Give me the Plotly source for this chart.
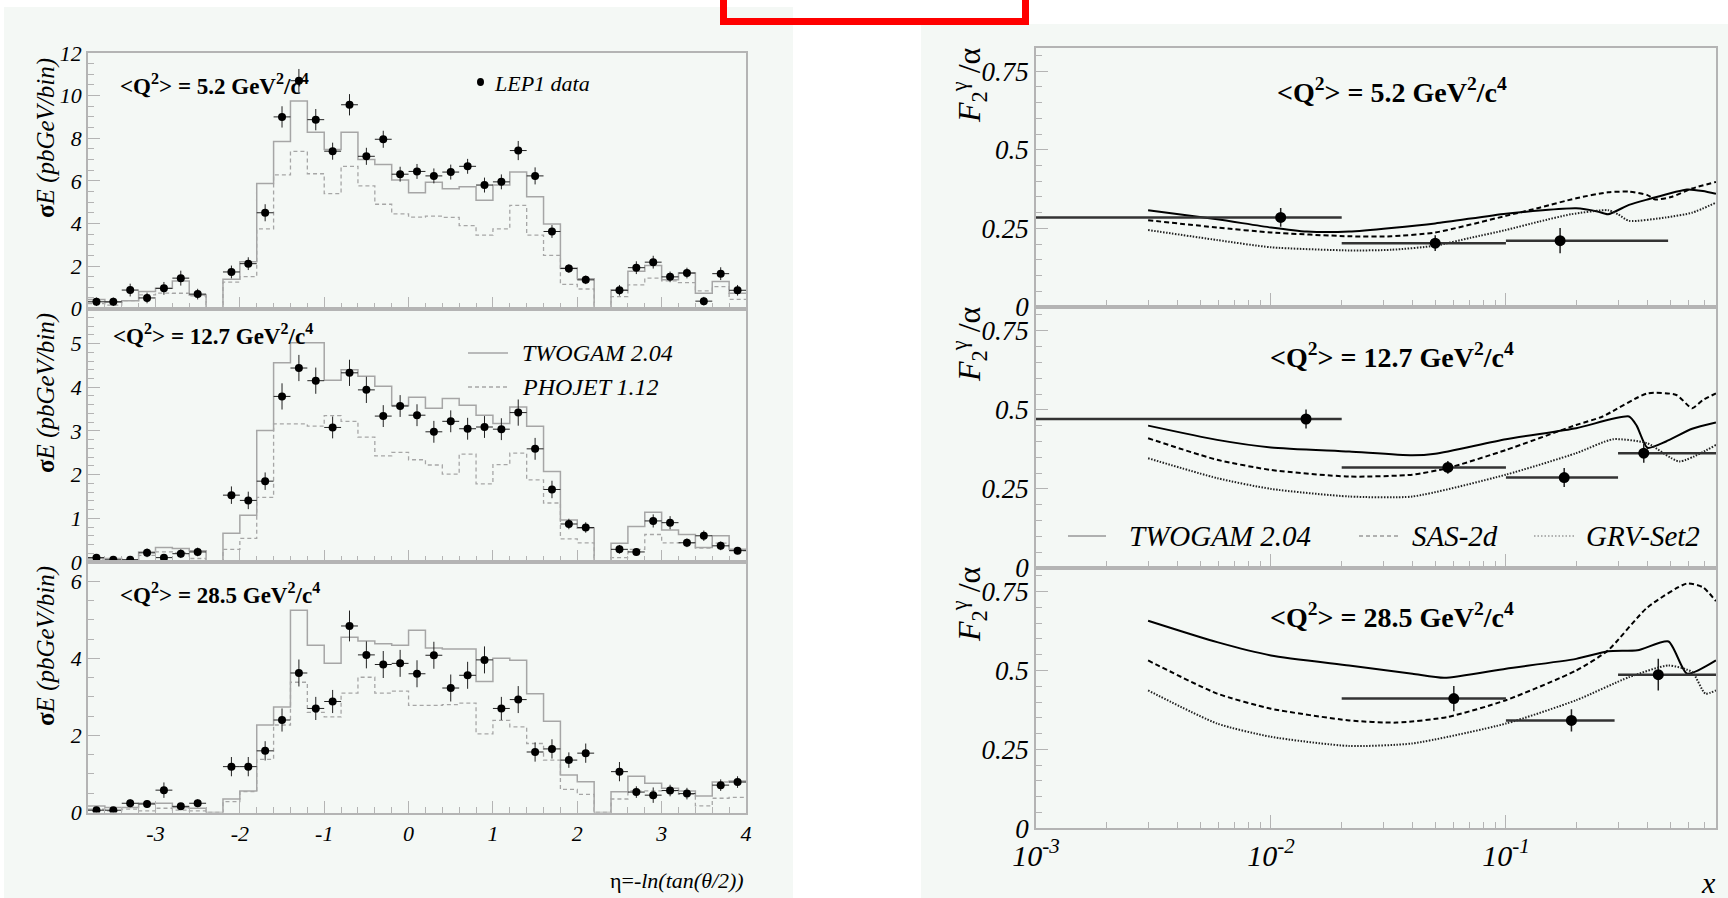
import plotly.graph_objects as go

# ---------------- data: left (eta distributions) ----------------
eta_edges = [round(-3.8 + 0.2 * i, 1) for i in range(40)]
eta_centers = [round(e + 0.1, 1) for e in eta_edges[:-1]]
eta_ticks = [-3, -2, -1, 0, 1, 2, 3, 4]
eta_ticktext = ["-3", "-2", "-1", "0", "1", "2", "3", "4"]

data1 = [0.32, 0.32, 0.87, 0.50, 0.95, 1.43, 0.68, None, 1.72, 2.11, 4.50, 9.00, 10.7, 8.87, 7.39, 9.57,
         7.15, 7.95, 6.31, 6.44, 6.23, 6.41, 6.68, 5.80, 5.95, 7.42, 6.23, 3.62, 1.88, 1.35, None, 0.86,
         1.92, 2.18, 1.49, 1.67, 0.35, 1.64, 0.86]
err1 = [0.2, 0.2, 0.3, 0.25, 0.3, 0.35, 0.25, 0, 0.3, 0.3, 0.4, 0.5, 0.55, 0.5, 0.4, 0.5, 0.4, 0.4, 0.35,
        0.35, 0.35, 0.35, 0.35, 0.35, 0.35, 0.45, 0.4, 0.3, 0.2, 0.2, 0, 0.25, 0.3, 0.3, 0.25, 0.25, 0.2,
        0.3, 0.25]
tw1 = [0.43, 0.30, 0.37, 0.80, 0.95, 1.30, 0.64, 0, 1.38, 2.20, 5.87, 7.84, 9.75, 8.28, 7.47, 8.28, 7.00,
       6.77, 6.04, 5.44, 5.93, 5.63, 5.72, 5.09, 5.80, 6.41, 5.25, 3.97, 1.91, 1.40, 0, 0.87, 1.75, 2.02,
       1.35, 1.67, 0.72, 1.27, 0.72]
ph1 = [0.24, 0.16, 0.37, 0.64, 0.73, 0.72, 0.60, 0, 1.24, 1.50, 3.74, 6.28, 7.38, 6.33, 5.40, 6.68, 5.76,
       4.90, 4.45, 4.29, 4.34, 4.28, 3.90, 3.45, 3.74, 4.85, 3.45, 2.50, 1.14, 0.92, 0, 0.56, 1.11, 1.43,
       1.30, 1.22, 0.83, 1.03, 0.43]

data2 = [0.10, 0.05, 0.05, 0.21, 0.10, 0.19, 0.23, None, 1.53, 1.41, 1.85, 3.79, 4.44, 4.15, 3.08, 4.33,
         3.94, 3.34, 3.57, 3.36, 2.98, 3.22, 3.05, 3.09, 3.04, 3.42, 2.59, 1.66, 0.87, 0.79, None, 0.29,
         0.23, 0.94, 0.90, 0.44, 0.60, 0.37, 0.26]
err2 = [0.08, 0.06, 0.06, 0.1, 0.08, 0.1, 0.1, 0, 0.2, 0.2, 0.2, 0.3, 0.3, 0.3, 0.25, 0.3, 0.3, 0.25, 0.25,
        0.25, 0.25, 0.25, 0.25, 0.25, 0.25, 0.3, 0.25, 0.2, 0.12, 0.12, 0, 0.1, 0.08, 0.15, 0.15, 0.1, 0.12,
        0.1, 0.08]
tw2 = [0.08, 0.08, 0.05, 0.23, 0.33, 0.31, 0.26, 0, 0.66, 1.07, 3.01, 4.56, 5.02, 5.02, 4.16, 4.40, 4.25,
       4.02, 3.58, 3.77, 3.52, 3.74, 3.59, 3.36, 3.17, 3.55, 3.11, 2.07, 0.96, 0.77, 0, 0.43, 0.81, 1.14,
       0.73, 0.63, 0.33, 0.60, 0.29]
ph2 = [0.04, 0.02, 0.04, 0.15, 0.23, 0.21, 0.08, 0, 0.29, 0.54, 1.48, 3.16, 3.16, 3.11, 3.35, 3.22, 2.86,
       2.43, 2.51, 2.34, 2.22, 2.01, 2.47, 1.79, 2.23, 2.49, 1.88, 1.35, 0.53, 0.44, 0, 0.10, 0.29, 0.63,
       0.44, 0.44, 0.32, 0.43, 0.26]

data3 = [0.06, 0.06, 0.24, 0.22, 0.58, 0.16, 0.24, None, 1.19, 1.19, 1.60, 2.40, 3.62, 2.70, 2.88, 4.84,
         4.09, 3.84, 3.87, 3.60, 4.08, 3.23, 3.56, 3.96, 2.70, 2.93, 1.57, 1.65, 1.36, 1.54, None, 1.06,
         0.53, 0.45, 0.57, 0.49, None, 0.71, 0.79]
err3 = [0.06, 0.06, 0.1, 0.1, 0.2, 0.08, 0.1, 0, 0.25, 0.25, 0.25, 0.3, 0.35, 0.3, 0.3, 0.4, 0.35, 0.35,
        0.35, 0.35, 0.35, 0.35, 0.35, 0.35, 0.3, 0.35, 0.25, 0.25, 0.2, 0.25, 0, 0.25, 0.15, 0.2, 0.15,
        0.15, 0, 0.15, 0.15]
tw3 = [0.17, 0.13, 0.13, 0.24, 0.24, 0.13, 0.11, 0, 0.35, 0.56, 2.27, 2.74, 5.25, 4.34, 3.87, 4.55, 4.45,
       4.38, 4.34, 4.73, 4.27, 4.24, 4.24, 3.40, 4.00, 3.95, 3.08, 2.37, 0.97, 0.80, 0, 0.54, 0.94, 0.76,
       0.63, 0.56, 0.43, 0.79, 0.82]
ph3 = [0.09, 0.04, 0.09, 0.04, 0.11, 0.06, 0.04, 0, 0.28, 0.54, 1.38, 2.27, 3.38, 2.60, 2.48, 3.10, 3.51,
       3.10, 3.15, 2.78, 2.78, 2.80, 2.84, 2.04, 2.39, 2.22, 1.79, 1.36, 0.60, 0.47, 0, 0.35, 0.56, 0.56,
       0.56, 0.47, 0.17, 0.37, 0.39]

left_q2 = ["5.2", "12.7", "28.5"]
left_ymax = [12, 5.8, 6.5]
left_major = [2, 1, 2]
left_minor = [0.5, 0.2, 0.5]

# ---------------- data: right (F2/alpha vs x) ----------------
f2_x = [[0.011, 0.05, 0.17], [0.0141, 0.0566, 0.177, 0.386], [0.06, 0.19, 0.445]]
f2_y = [[0.285, 0.203, 0.211], [0.471, 0.318, 0.286, 0.363], [0.411, 0.342, 0.487]]
f2_xlo = [[0.001, 0.02, 0.1], [0.001, 0.02, 0.1, 0.3], [0.02, 0.1, 0.3]]
f2_xhi = [[0.02, 0.1, 0.49], [0.02, 0.1, 0.3, 0.8], [0.1, 0.29, 0.8]]
f2_yerr = [[0.03, 0.025, 0.04], [0.03, 0.02, 0.03, 0.03], [0.04, 0.035, 0.05]]

twogam_x = [[0.003, 0.0059, 0.01, 0.0142, 0.0215, 0.05, 0.1, 0.199, 0.245, 0.272, 0.334, 0.40, 0.59, 0.689, 0.783],
            [0.003, 0.0059, 0.01, 0.0215, 0.040, 0.05, 0.1, 0.199, 0.334, 0.36, 0.40, 0.48, 0.62, 0.783],
            [0.003, 0.0059, 0.01, 0.0215, 0.040, 0.0546, 0.1, 0.199, 0.272, 0.363, 0.492, 0.59, 0.783]]
twogam_y = [[0.308, 0.279, 0.253, 0.240, 0.240, 0.266, 0.297, 0.314, 0.304, 0.295, 0.325, 0.342, 0.374, 0.369, 0.360],
            [0.450, 0.405, 0.381, 0.368, 0.356, 0.361, 0.407, 0.442, 0.479, 0.450, 0.380, 0.400, 0.440, 0.460],
            [0.658, 0.590, 0.548, 0.516, 0.490, 0.477, 0.506, 0.537, 0.561, 0.564, 0.592, 0.490, 0.532]]
sas_x = [[0.003, 0.0059, 0.01, 0.0215, 0.0325, 0.05, 0.1, 0.139, 0.199, 0.272, 0.334, 0.40, 0.432, 0.505, 0.62, 0.783],
         [0.003, 0.0059, 0.01, 0.0215, 0.040, 0.0566, 0.1, 0.199, 0.258, 0.40, 0.531, 0.62, 0.689, 0.783],
         [0.003, 0.0059, 0.01, 0.0215, 0.0343, 0.0566, 0.1, 0.199, 0.272, 0.40, 0.59, 0.689, 0.783]]
sas_y = [[0.276, 0.253, 0.237, 0.225, 0.225, 0.237, 0.290, 0.316, 0.346, 0.365, 0.367, 0.356, 0.342, 0.350, 0.377, 0.398],
         [0.410, 0.342, 0.310, 0.289, 0.295, 0.316, 0.373, 0.452, 0.479, 0.552, 0.547, 0.505, 0.531, 0.552],
         [0.532, 0.427, 0.379, 0.342, 0.335, 0.353, 0.406, 0.500, 0.564, 0.700, 0.776, 0.764, 0.720]]
grv_x = [[0.003, 0.0059, 0.01, 0.0215, 0.0325, 0.05, 0.0706, 0.1, 0.139, 0.189, 0.272, 0.30, 0.334, 0.48, 0.62, 0.783],
         [0.003, 0.0059, 0.01, 0.0215, 0.040, 0.1, 0.199, 0.286, 0.40, 0.546, 0.783],
         [0.003, 0.0059, 0.01, 0.0215, 0.040, 0.1, 0.199, 0.334, 0.492, 0.62, 0.706, 0.783]]
grv_y = [[0.245, 0.213, 0.190, 0.180, 0.182, 0.195, 0.220, 0.245, 0.272, 0.295, 0.308, 0.295, 0.274, 0.285, 0.300, 0.332],
         [0.347, 0.284, 0.250, 0.226, 0.226, 0.295, 0.363, 0.407, 0.394, 0.337, 0.389],
         [0.437, 0.332, 0.290, 0.261, 0.269, 0.332, 0.406, 0.479, 0.516, 0.495, 0.427, 0.437]]

right_q2 = ["5.2", "12.7", "28.5"]

# ---------------- geometry / style ----------------
W, H = 1728, 898
SERIF = "Liberation Serif"
BG = "#f4f8f5"
FRAME = "#b4b4b4"
HISTC = "#a6a6a6"


def px(x):
    return x / W


def py(y):
    return 1 - y / H


LX = [px(88), px(746)]
left_dom = [(53, 308.6), (308.6, 562), (562, 812.5)]
RX = [px(1036), px(1716)]
right_dom = [(47.7, 307), (307, 568), (568, 828.3)]

fig = go.Figure()
layout = dict(
    template="none",
    width=W, height=H, autosize=False,
    margin=dict(l=0, r=0, t=0, b=0, pad=0, autoexpand=False),
    paper_bgcolor="white", plot_bgcolor="rgba(0,0,0,0)",
    showlegend=False,
    font=dict(family=SERIF, color="black"),
)

tick_font_left = dict(family=SERIF, size=22, color="black", style="italic")
tick_font_leftx = dict(family=SERIF, size=22, color="black", style="italic")
tick_font_right = dict(family=SERIF, size=27, color="black", style="italic")

# ---- left panels ----
for i in range(3):
    n = i + 1
    xs = "x" if n == 1 else f"x{n}"
    ys = "y" if n == 1 else f"y{n}"
    xk = "xaxis" if n == 1 else f"xaxis{n}"
    yk = "yaxis" if n == 1 else f"yaxis{n}"
    data = [data1, data2, data3][i]
    err = [err1, err2, err3][i]
    tw = [tw1, tw2, tw3][i]
    ph = [ph1, ph2, ph3][i]

    fig.add_trace(go.Scatter(x=eta_edges, y=tw + [tw[-1]], mode="lines",
                             line=dict(shape="hv", color=HISTC, width=1.5),
                             xaxis=xs, yaxis=ys, hoverinfo="skip"))
    fig.add_trace(go.Scatter(x=eta_edges, y=ph + [ph[-1]], mode="lines",
                             line=dict(shape="hv", color=HISTC, width=1.3, dash="4px,3px"),
                             xaxis=xs, yaxis=ys, hoverinfo="skip"))
    fig.add_trace(go.Scatter(x=eta_centers, y=data, mode="markers",
                             marker=dict(size=8, color="black"),
                             error_y=dict(type="data", array=err, thickness=1, width=0, color="#222"),
                             error_x=dict(type="constant", value=0.1, thickness=1, width=0, color="#222"),
                             xaxis=xs, yaxis=ys))

    t, b = left_dom[i]
    layout[xk] = dict(
        domain=LX, anchor=ys, range=[-3.8, 4.0], showgrid=False, zeroline=False, automargin=False,
        showline=True, mirror=True, linecolor=FRAME, linewidth=1.5,
        ticks="inside", tickmode="array", tickvals=eta_ticks, ticktext=eta_ticktext,
        ticklen=12, tickcolor=FRAME,
        minor=dict(ticks="inside", dtick=0.2, tick0=0, ticklen=6, tickcolor=FRAME, showgrid=False),
        showticklabels=(i == 2), tickfont=tick_font_leftx,
    )
    layout[yk] = dict(
        domain=[py(b), py(t)], anchor=xs, range=[0, left_ymax[i]], showgrid=False, zeroline=False,
        automargin=False,
        showline=True, mirror=True, linecolor=FRAME, linewidth=1.5,
        ticks="inside", dtick=left_major[i], tick0=0, ticklen=12, tickcolor=FRAME,
        minor=dict(ticks="inside", dtick=left_minor[i], tick0=0, ticklen=6, tickcolor=FRAME, showgrid=False),
        tickfont=tick_font_left,
    )

# ---- right panels ----
minor_logs = [m * d for d in (0.001, 0.01, 0.1) for m in range(2, 10) if m * d < 0.79]
for i in range(3):
    n = i + 4
    xs, ys = f"x{n}", f"y{n}"
    xk, yk = f"xaxis{n}", f"yaxis{n}"
    fig.add_trace(go.Scatter(x=twogam_x[i], y=twogam_y[i], mode="lines",
                             line=dict(color="black", width=2, shape="spline", smoothing=0.6),
                             xaxis=xs, yaxis=ys, hoverinfo="skip"))
    fig.add_trace(go.Scatter(x=sas_x[i], y=sas_y[i], mode="lines",
                             line=dict(color="black", width=2, dash="5px,3px", shape="spline", smoothing=0.6),
                             xaxis=xs, yaxis=ys, hoverinfo="skip"))
    fig.add_trace(go.Scatter(x=grv_x[i], y=grv_y[i], mode="lines",
                             line=dict(color="#222", width=2, dash="1.5px,1.5px", shape="spline", smoothing=0.6),
                             xaxis=xs, yaxis=ys, hoverinfo="skip"))
    xv = f2_x[i]
    fig.add_trace(go.Scatter(
        x=xv, y=f2_y[i], mode="markers", marker=dict(size=11, color="black"),
        error_x=dict(type="data", array=[h - x for h, x in zip(f2_xhi[i], xv)],
                     arrayminus=[x - l for l, x in zip(f2_xlo[i], xv)],
                     thickness=2.5, width=0, color="#333"),
        error_y=dict(type="data", array=f2_yerr[i], thickness=1.5, width=0, color="#222"),
        xaxis=xs, yaxis=ys, cliponaxis=True))

    t, b = right_dom[i]
    layout[xk] = dict(
        domain=RX, anchor=ys, type="log", range=[-3, -0.106], showgrid=False, zeroline=False,
        automargin=False,
        showline=True, mirror=True, linecolor=FRAME, linewidth=1.5,
        ticks="inside", tickmode="array", tickvals=[0.001, 0.01, 0.1],
        ticktext=["10<sup>-3</sup>", "10<sup>-2</sup>", "10<sup>-1</sup>"],
        ticklen=14, tickcolor=FRAME,
        minor=dict(ticks="inside", tickmode="array", tickvals=minor_logs, ticklen=7,
                   tickcolor=FRAME, showgrid=False),
        showticklabels=(i == 2), tickfont=dict(family=SERIF, size=30, color="black", style="italic"),
    )
    layout[yk] = dict(
        domain=[py(b), py(t)], anchor=xs, range=[0, 0.825], showgrid=False, zeroline=False,
        automargin=False,
        showline=True, mirror=True, linecolor=FRAME, linewidth=1.5,
        ticks="inside", tickmode="array", tickvals=[0, 0.25, 0.5, 0.75],
        ticktext=["0", "0.25", "0.5", "0.75"], ticklen=12, tickcolor=FRAME,
        minor=dict(ticks="inside", dtick=0.05, tick0=0, ticklen=6, tickcolor=FRAME, showgrid=False),
        tickfont=tick_font_right,
    )

# ---------------- shapes ----------------
shapes = [
    dict(type="rect", xref="paper", yref="paper", x0=px(4), x1=px(793), y0=py(898), y1=py(7),
         fillcolor=BG, line=dict(width=0), layer="below"),
    dict(type="rect", xref="paper", yref="paper", x0=px(921), x1=px(1728), y0=py(898), y1=py(24),
         fillcolor=BG, line=dict(width=0), layer="below"),
    dict(type="rect", xref="paper", yref="paper", x0=px(723.5), x1=px(1025.5), y0=py(21.5), y1=py(-10),
         fillcolor="rgba(0,0,0,0)", line=dict(color="#ff0000", width=7), layer="above"),
    # left legends
    dict(type="circle", xref="paper", yref="paper", x0=px(477), x1=px(484), y0=py(86), y1=py(78),
         fillcolor="black", line=dict(width=0)),
    dict(type="line", xref="paper", yref="paper", x0=px(468), x1=px(508), y0=py(353), y1=py(353),
         line=dict(color=HISTC, width=1.5)),
    dict(type="line", xref="paper", yref="paper", x0=px(468), x1=px(508), y0=py(387), y1=py(387),
         line=dict(color=HISTC, width=1.3, dash="4px,3px")),
    # right legend
    dict(type="line", xref="paper", yref="paper", x0=px(1068), x1=px(1106), y0=py(536), y1=py(536),
         line=dict(color="#999", width=1.5)),
    dict(type="line", xref="paper", yref="paper", x0=px(1359), x1=px(1399), y0=py(536), y1=py(536),
         line=dict(color="#999", width=1.3, dash="4px,3px")),
    dict(type="line", xref="paper", yref="paper", x0=px(1534), x1=px(1576), y0=py(536), y1=py(536),
         line=dict(color="#999", width=1.3, dash="1.5px,2px")),
]
layout["shapes"] = shapes

# ---------------- annotations ----------------
ann = []


def A(text, x, y, size, xanchor="left", yanchor="middle", angle=0, weight=None, style=None):
    f = dict(family=SERIF, size=size, color="black")
    if weight:
        f["weight"] = weight
    if style:
        f["style"] = style
    ann.append(dict(text=text, x=px(x), y=py(y), xref="paper", yref="paper", showarrow=False,
                    xanchor=xanchor, yanchor=yanchor, textangle=angle, font=f))


left_title_pos = [(118, 84), (111, 334), (118, 593)]
for q, (x, y) in zip(left_q2, left_title_pos):
    A(f"&lt;Q<sup>2</sup>&gt; = {q} GeV<sup>2</sup>/c<sup>4</sup>", x, y, 23, weight=700)

right_title_y = [90, 355, 615]
for q, y in zip(right_q2, right_title_y):
    A(f"&lt;Q<sup>2</sup>&gt; = {q} GeV<sup>2</sup>/c<sup>4</sup>", 1392, y, 28, xanchor="center", weight=700)

left_ytitle_top = [56, 311, 564]
for y in left_ytitle_top:
    A("<b>σ</b><i>E (pbGeV/bin)</i>", 46, y, 25, xanchor="center", yanchor="top", angle=-90)

right_ytitle_top = [45, 304, 564]
for y in right_ytitle_top:
    A("<i>F</i><sub>2</sub><sup>γ</sup> /α", 969, y, 32, xanchor="center", yanchor="top", angle=-90)

A("LEP1 data", 492, 83, 22, style="italic")
A("TWOGAM 2.04", 520, 353, 24, style="italic")
A("PHOJET 1.12", 520, 387, 24, style="italic")
A("TWOGAM 2.04", 1127, 536, 29, style="italic")
A("SAS-2d", 1410, 536, 29, style="italic")
A("GRV-Set2", 1584, 536, 29, style="italic")

A("η=-<i>ln(tan(θ/2))</i>", 746, 880, 22, xanchor="right")
A("<i>x</i>", 1708, 882, 30, xanchor="center")

layout["annotations"] = ann
fig.update_layout(**layout)
fig.write_html("out.html",
               post_script="document.body.style.margin='0';document.body.style.overflow='hidden';")
